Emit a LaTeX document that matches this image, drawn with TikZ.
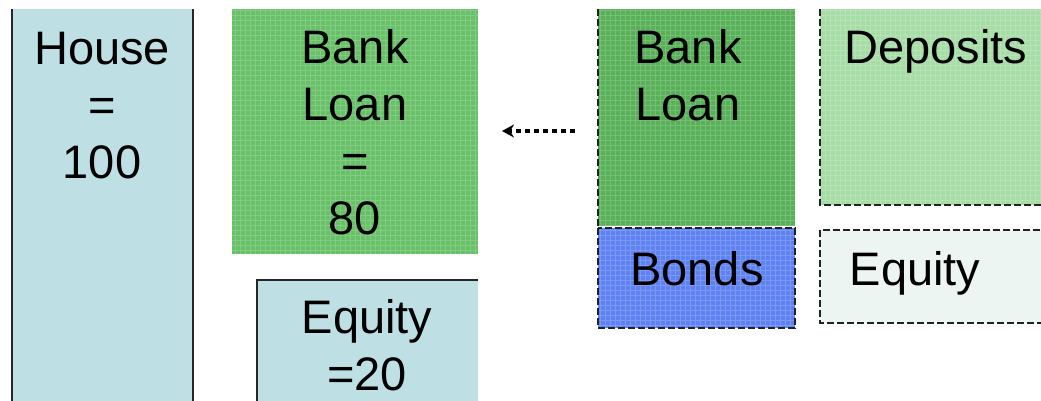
\documentclass[tikz,border=0pt]{standalone}
\usepackage{fontspec}
\setmainfont{Liberation Sans}
\usetikzlibrary{arrows.meta}
\definecolor{lblue}{HTML}{BEE0E4}
\definecolor{greenL}{HTML}{68C068}
\definecolor{greenR}{HTML}{58B058}
\definecolor{depgreen}{HTML}{A6DCA6}
\definecolor{bondblue}{HTML}{5F82F2}
\definecolor{eqlight}{HTML}{EDF5F2}
\definecolor{edge}{HTML}{222222}
\tikzset{
  box/.style={rectangle, inner sep=0pt, outer sep=0pt, anchor=north west},
  dline/.style={draw=edge, line width=1.8pt, dash pattern=on 7pt off 3pt},
  lbl/.style={anchor=base, inner sep=0pt, font=\fontsize{47}{57}\selectfont, text=black},
  solidedge/.style={draw=black!85, line width=2pt},
  texture/.style={white, opacity=0.18, line width=0.5pt},
}
\begin{document}
\begin{tikzpicture}[x=1pt,y=-1pt]
\fill[white] (0,0) rectangle (1041,400);
\useasboundingbox (0,0) rectangle (1041,400);

% left side
\node[box, fill=lblue, minimum width=181pt, minimum height=395pt] (house) at (12,9) {};
\draw[solidedge] (house.north west) -- (house.south west);
\draw[solidedge] (house.north east) -- (house.south east);
\node[lbl] (h1) at (102,64) {House};
\node[lbl] (h2) at (102,121) {=};
\node[lbl] (h3) at (102,178) {100};

\node[box, fill=greenL, minimum width=246pt, minimum height=245pt] (loanL) at (232,9) {};
\draw[texture, step=5pt] (232,9) grid (478,254);
\node[lbl] (l1) at (355,63) {Bank};
\node[lbl] (l2) at (355,120) {Loan};
\node[lbl] (l3) at (355,177) {=};
\node[lbl] (l4) at (355,234) {80};

\node[box, fill=lblue, minimum width=221pt, minimum height=125pt] (eqL) at (257,280) {};
\draw[solidedge] (eqL.south west) -- (eqL.north west) -- (eqL.north east);
\node[lbl] (e1) at (367,333) {Equity};
\node[lbl] (e2) at (367,390) {=20};

% right side
\node[box, fill=greenR, minimum width=197pt, minimum height=217pt] (loanR) at (598,9) {};
\draw[texture, step=5pt] (598,9) grid (795,226);
\draw[dline] (loanR.south west) -- (loanR.north west);
\node[lbl] (r1) at (688,63) {Bank};
\node[lbl] (r2) at (688,120) {Loan};

\node[box, fill=depgreen, minimum width=230pt, minimum height=196pt] (dep) at (820,9) {};
\draw[texture, step=5pt] (820,9) grid (1041,205);
\draw[dline] (dep.north west) -- (dep.south west) -- (dep.south east);
\node[lbl] (d1) at (936,63) {Deposits};

\node[box, fill=bondblue, minimum width=197pt, minimum height=100pt] (bonds) at (598,228) {};
\draw[texture, step=5pt] (598,228) grid (795,328);
\draw[dline] (bonds.north west) rectangle (bonds.south east);
\node[lbl] (b1) at (697,285) {Bonds};

\node[box, fill=eqlight, minimum width=230pt, minimum height=93pt] (eqR) at (820,230) {};
\draw[dline] (eqR.north east) -- (eqR.north west) -- (eqR.south west) -- (eqR.south east);
\node[lbl] (q1) at (915,285) {Equity};

% arrow
\coordinate (astart) at (575,131);
\coordinate (aend) at (502,131);
\draw[black, line width=4.5pt, dash pattern=on 5pt off 4pt, -{Stealth[length=12pt,width=13pt]}] (astart) -- (aend);
\end{tikzpicture}
\end{document}
